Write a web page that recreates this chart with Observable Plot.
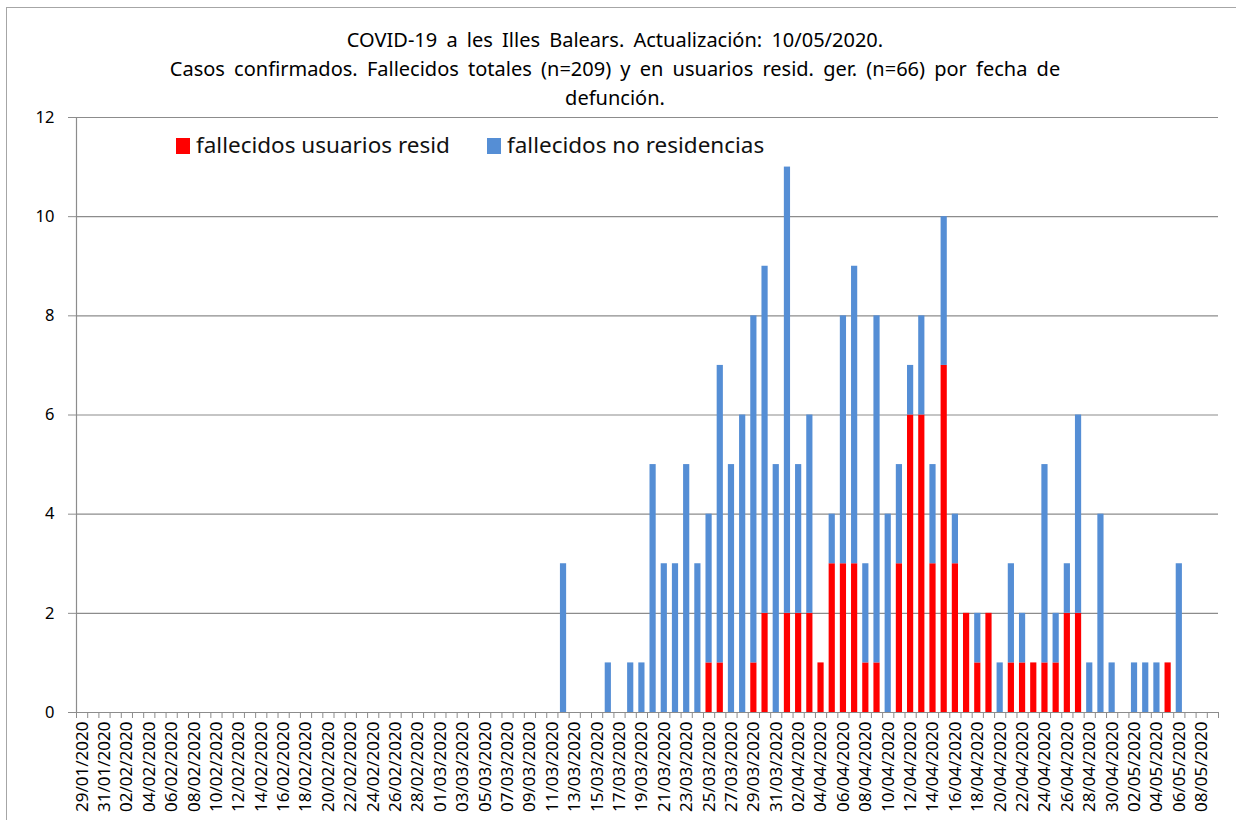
<!DOCTYPE html>
<html>
<head>
<meta charset="utf-8">
<script src="https://cdn.jsdelivr.net/npm/d3@7"></script>
<script src="https://cdn.jsdelivr.net/npm/@observablehq/plot@0.6"></script>
<style>
  body { margin: 0; background: #fff; }
  #wrap { position: relative; width: 1236px; height: 820px; overflow: hidden; font-family: "Noto Sans", sans-serif; background: #fff; }
  #frame { position: absolute; left: 6px; top: 7px; width: 1300px; height: 900px; border: 1px solid #a6a6a6; box-sizing: border-box; }
  #chart { position: absolute; left: 0; top: 0; }
  #title { position: absolute; left: 0px; width: 1230px; top: 25px; text-align: center; font-size: 20px; line-height: 29px; color: #000; word-spacing: 4px; white-space: nowrap; }
  #legend { position: absolute; top: 129px; left: 176px; font-size: 22.5px; color: #111; white-space: nowrap; }
  .item { position: absolute; top: 0; }
  .sw { display: inline-block; width: 14px; height: 16px; vertical-align: -1px; margin-right: 6px; }
</style>
</head>
<body>
<div id="wrap">
  <div id="frame"></div>
  <div id="chart"></div>
  <div id="title"></div>
  <div id="legend"></div>
</div>
<script>
// ---- data ----
const titleLines = [
  "COVID-19 a les Illes Balears. Actualización: 10/05/2020.",
  "Casos confirmados. Fallecidos totales (n=209) y en usuarios resid. ger. (n=66) por fecha de",
  "defunción."
];
const axisStart = "2020-01-29";
const axisEnd = "2020-05-10"; // exclusive (last band 09/05)
const seriesNames = ["fallecidos usuarios resid", "fallecidos no residencias"];
const seriesColors = ["#ff0000", "#558ed5"];
const yTicks = [0, 2, 4, 6, 8, 10, 12];

const dates = [
  "2020-03-12","2020-03-16","2020-03-18","2020-03-19","2020-03-20","2020-03-21","2020-03-22","2020-03-23","2020-03-24","2020-03-25",
  "2020-03-26","2020-03-27","2020-03-28","2020-03-29","2020-03-30","2020-03-31","2020-04-01","2020-04-02","2020-04-03","2020-04-04",
  "2020-04-05","2020-04-06","2020-04-07","2020-04-08","2020-04-09","2020-04-10","2020-04-11","2020-04-12","2020-04-13","2020-04-14",
  "2020-04-15","2020-04-16","2020-04-17","2020-04-18","2020-04-19","2020-04-20","2020-04-21","2020-04-22","2020-04-23","2020-04-24",
  "2020-04-25","2020-04-26","2020-04-27","2020-04-28","2020-04-29","2020-04-30","2020-05-02","2020-05-03","2020-05-04","2020-05-05",
  "2020-05-06"
];
const resid = [
  0,0,0,0,0,0,0,0,0,1,
  1,0,0,1,2,0,2,2,2,1,
  3,3,3,1,1,0,3,6,6,3,
  7,3,2,1,2,0,1,1,1,1,
  1,2,2,0,0,0,0,0,0,1,
  0
];
const noResid = [
  3,1,1,1,5,3,3,5,3,3,
  6,5,6,7,7,5,9,3,4,0,
  1,5,6,2,7,4,2,1,2,2,
  3,1,0,1,0,1,2,1,0,4,
  1,1,4,1,4,1,1,1,1,0,
  3
];

// ---- build ----
const rows = [];
dates.forEach((d, i) => {
  rows.push({date: new Date(d), serie: seriesNames[0], value: resid[i]});
  rows.push({date: new Date(d), serie: seriesNames[1], value: noResid[i]});
});
const start = new Date(axisStart), end = new Date(axisEnd);
const boundaries = d3.utcDay.range(start, d3.utcDay.offset(end, 1));
const labelDays = d3.utcDay.range(start, end).filter((d, i) => i % 2 === 0).map(d => d3.utcHour.offset(d, 12));

const gridColor = "#8c8c8c";
const chart = Plot.plot({
  width: 1236,
  height: 820,
  marginLeft: 76,
  marginRight: 18,
  marginTop: 117,
  marginBottom: 108,
  style: {fontFamily: "Noto Sans, sans-serif", fontSize: "14px", color: "#000", background: "transparent"},
  x: {type: "utc", domain: [start, end], axis: null},
  y: {domain: [0, 12], axis: null},
  color: {domain: seriesNames, range: seriesColors},
  marks: [
    Plot.gridY(yTicks.filter(t => t > 0), {stroke: gridColor, strokeOpacity: 1, strokeWidth: 1.2}),
    Plot.rectY(rows, {x: "date", y: "value", fill: "serie", interval: "day", insetLeft: 2.5, insetRight: 2.5, order: seriesNames}),
    Plot.ruleX([start], {stroke: gridColor, strokeWidth: 1.2}),
    Plot.ruleY([0], {stroke: gridColor, strokeWidth: 1.2}),
    Plot.axisY({ticks: yTicks, tickSize: 8, tickPadding: 14, fontSize: 16.5, label: null, stroke: gridColor, fill: "#000"}),
    Plot.axisX({ticks: boundaries, tickSize: 6, tickFormat: () => "", label: null, stroke: gridColor}),
    Plot.axisX({ticks: labelDays, tickSize: 0, tickPadding: 9, tickRotate: -90, tickFormat: d3.utcFormat("%d/%m/%Y"), fontSize: 17, label: null, fill: "#000"})
  ]
});
document.getElementById("chart").appendChild(chart);

document.getElementById("title").innerHTML = titleLines.map(t => `<div>${t}</div>`).join("");

const legend = document.getElementById("legend");
const offsets = [0, 311];
seriesNames.forEach((n, i) => {
  const it = document.createElement("div");
  it.className = "item";
  it.style.left = offsets[i] + "px";
  it.innerHTML = `<span class="sw" style="background:${seriesColors[i]}"></span>${n}`;
  legend.appendChild(it);
});
</script>
</body>
</html>
